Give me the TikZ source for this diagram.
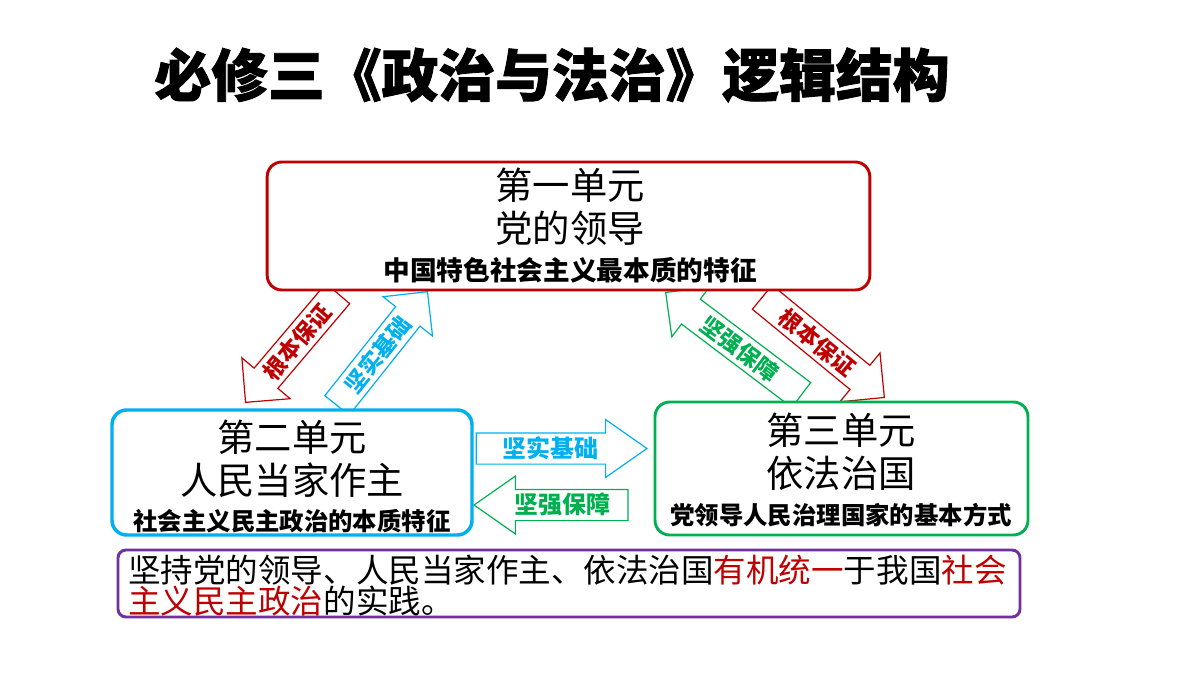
\documentclass[tikz,border=0pt]{standalone}
\usepackage{fontspec}
\setmainfont{Noto Sans CJK SC}
\newfontfamily\titlefont{Noto Sans CJK SC}[BoldFeatures={FakeBold=1.5}]
\usetikzlibrary{shapes.arrows,positioning}

\definecolor{dred}{RGB}{192,0,0}
\definecolor{lblue}{RGB}{0,176,240}
\definecolor{lgreen}{RGB}{0,176,80}
\definecolor{dpurple}{RGB}{112,48,160}

\newcommand{\fsz}[1]{\fontsize{#1}{#1}\selectfont}

\tikzset{
  unitbox/.style={draw, fill=white, rounded corners=11pt, line width=2.2pt, inner sep=0pt},
  bigtxt/.style={font=\fsz{28}, inner sep=0pt},
  subtxt/.style={font=\fsz{18.3}\bfseries, inner sep=0pt},
  blockarrow/.style={single arrow, draw, fill=white, line width=0.9pt,
    inner xsep=2pt, inner ysep=0pt, text height=17.8pt, text depth=4.7pt,
    single arrow head extend=12pt, font=\fsz{17}\bfseries},
  sidearrow/.style={blockarrow, single arrow tip angle=70,
    single arrow head extend=10pt, font=\fsz{18}\bfseries}
}

\begin{document}
\begin{tikzpicture}[x=0.75pt,y=-0.75pt]
  \fill[white] (0,0) rectangle (1200,675);
  \useasboundingbox (0,0) rectangle (1200,675);

  \node[font=\titlefont\fsz{42.6}\bfseries, inner sep=0pt] (title) at (552,75) {必修三《政治与法治》逻辑结构};

  % arrows between the units
  \node[blockarrow, draw=dred, text=dred, shape border rotate=180, rotate=49.7,
        minimum height=107pt, anchor=tip] (a12) at (245,403) {根本保证};
  \node[blockarrow, draw=lblue, text=lblue, rotate=51.5,
        minimum height=109pt, anchor=tip] (a21) at (428,291) {坚实基础};
  \node[blockarrow, draw=lgreen, text=lgreen, shape border rotate=180, rotate=-37.1,
        minimum height=127.5pt, anchor=tip] (a31) at (665,292) {坚强保障};
  \node[blockarrow, draw=dred, text=dred, rotate=-39.4,
        minimum height=118.5pt, anchor=tip] (a13) at (885,398) {根本保证};
  \node[sidearrow, draw=lblue, text=lblue,
        minimum height=128pt, anchor=tip] (a23) at (648,448.5) {坚实基础};
  \node[sidearrow, draw=lgreen, text=lgreen, shape border rotate=180,
        minimum height=115.5pt, anchor=tip] (a32) at (473,505) {坚强保障};

  % unit one
  \node[unitbox, draw=dred, minimum width=452pt, minimum height=96pt] (u1) at (568.5,226) {};
  \node[bigtxt] (u1a) at (570,185) {第一单元};
  \node[bigtxt] (u1b) at (570,228) {党的领导};
  \node[subtxt, font=\fsz{20}\bfseries] (u1c) at (570,270) {中国特色社会主义最本质的特征};

  % unit two
  \node[unitbox, draw=lblue, line width=2.6pt, minimum width=270pt, minimum height=93.75pt] (u2) at (292,472.5) {};
  \node[bigtxt] (u2a) at (292,437) {第二单元};
  \node[bigtxt] (u2b) at (292,480) {人民当家作主};
  \node[subtxt] (u2c) at (292,521) {社会主义民主政治的本质特征};

  % unit three
  \node[unitbox, draw=lgreen, minimum width=279.75pt, minimum height=99.75pt] (u3) at (841.5,468.5) {};
  \node[bigtxt] (u3a) at (841,430) {第三单元};
  \node[bigtxt] (u3b) at (841,473) {依法治国};
  \node[subtxt] (u3c) at (841,515) {党领导人民治理国家的基本方式};

  % summary
  \node[unitbox, draw=dpurple, rounded corners=6pt, minimum width=676.5pt, minimum height=50.25pt] (sum) at (569,583.5) {};
  \node[anchor=west, align=left, inner sep=0pt, font=\fontsize{24.4}{23.3}\selectfont] (sumtxt) at (128,585.5)
    {坚持党的领导、人民当家作主、依法治国\textcolor{dred}{有机统一}于我国\textcolor{dred}{社会}\\
     \textcolor{dred}{主义民主政治}的实践。};
\end{tikzpicture}
\end{document}
